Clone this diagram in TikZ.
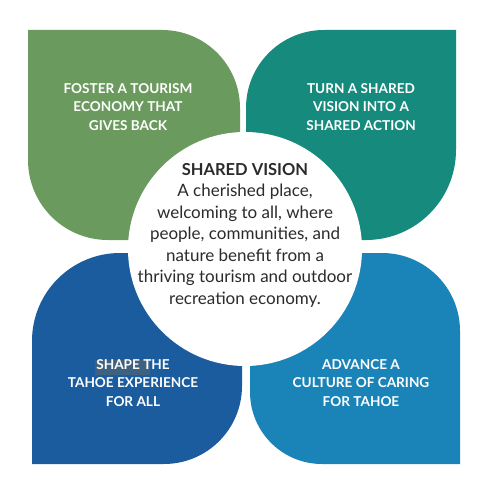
\documentclass[tikz,border=0pt]{standalone}
\usepackage{fontspec}
\setmainfont{Lato}
\definecolor{cgreen}{HTML}{6B9A5E}
\definecolor{cteal}{HTML}{168A7C}
\definecolor{cdblue}{HTML}{1A5C9E}
\definecolor{clblue}{HTML}{1A84B8}
\definecolor{ctext}{HTML}{2B2B2B}
\definecolor{chl}{HTML}{3F6180}
\begin{document}
\begin{tikzpicture}[x=1pt,y=-1pt,
  petaltext/.style={text=white,font=\fontsize{13.6}{18.5}\selectfont\bfseries,align=center,inner sep=0pt},
  centertext/.style={text=ctext,font=\fontsize{17}{21.5}\selectfont,align=center,inner sep=0pt}]
\useasboundingbox[fill=white] (0,0) rectangle (488,487);
% top-left
\fill[cgreen] (28,30) -- (162,30) .. controls (205.1,30) and (240,64.9) .. (240,108) -- (240,240) -- (108,240) .. controls (63.8,240) and (28,204.2) .. (28,160) -- cycle;
% top-right
\fill[cteal] (456,30) -- (456,150) .. controls (456,199.7) and (415.7,240) .. (366,240) -- (246,240) -- (246,108) .. controls (246,64.9) and (280.9,30) .. (324,30) -- cycle;
% bottom-left
\fill[cdblue] (32,464) -- (32,341) .. controls (32,292.4) and (71.4,253) .. (120,253) -- (242,253) -- (242,386) .. controls (242,429.1) and (207.1,464) .. (164,464) -- cycle;
% bottom-right
\fill[clblue] (460,464) -- (322,464) .. controls (282.2,464) and (250,431.8) .. (250,392) -- (250,253) -- (382,253) .. controls (425.1,253) and (460,287.9) .. (460,331) -- cycle;
% highlight artefact
\fill[chl] (95,360) rectangle (150,375);
% centre circle
\node[circle,fill=white,minimum size=234pt,inner sep=0pt] (c) at (245,249) {};
\node[centertext] (cv) at (245,235) {{\bfseries\fontsize{16.5}{21.5}\selectfont SHARED VISION}\\A cherished place,\\welcoming to all, where\\people, communities, and\\nature benefit from a\\thriving tourism and outdoor\\recreation economy.};
\node[petaltext] (tl) at (128,107) {FOSTER A TOURISM\\ECONOMY THAT\\GIVES BACK};
\node[petaltext] (tr) at (361,107) {TURN A SHARED\\VISION INTO A\\SHARED ACTION};
\node[petaltext] (bl) at (133,383) {SHAPE THE\\TAHOE EXPERIENCE\\FOR ALL};
\node[petaltext] (br) at (361,383) {ADVANCE A\\CULTURE OF CARING\\FOR TAHOE};
\end{tikzpicture}
\end{document}
